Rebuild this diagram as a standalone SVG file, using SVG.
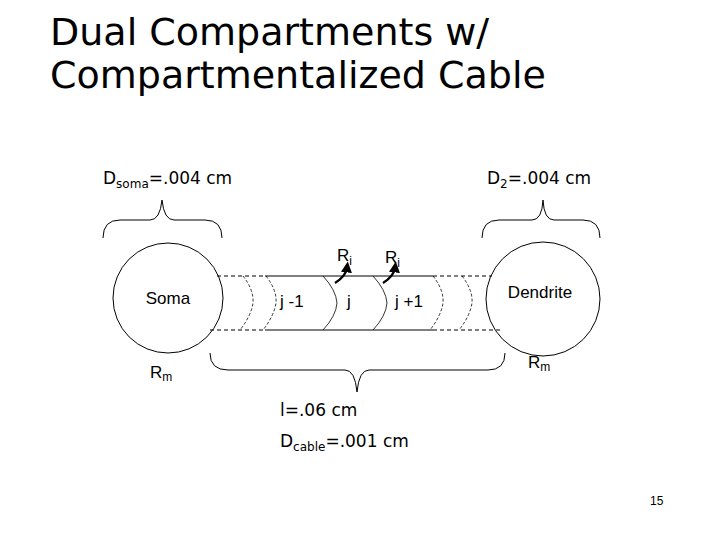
<svg xmlns="http://www.w3.org/2000/svg" width="720" height="540" viewBox="0 0 720 540">
<style>
text{font-family:"DejaVu Sans","Liberation Sans",sans-serif;fill:#000}
.l{font-size:17px}
.s{font-size:12px}
.a{font-size:17px;font-family:"Liberation Sans",sans-serif}
.ln{fill:none;stroke:#000;stroke-width:1}
.d{stroke-dasharray:4,3}
.dv{fill:none;stroke:#000;stroke-width:0.8;stroke-dasharray:3,2}
.sv{fill:none;stroke:#000;stroke-width:0.8}
</style>
<defs><marker id="ah" markerWidth="5" markerHeight="5" refX="2" refY="2.5" orient="auto"><path d="M0,0L5,2.5L0,5z" fill="#000"/></marker></defs>
<rect width="720" height="540" fill="#fff"/>
<text x="50" y="45" style="font-size:38px">Dual Compartments w/</text>
<text x="50" y="88" style="font-size:38px">Compartmentalized Cable</text>
<text x="103" y="184" class="l">D<tspan class="s" dy="4">soma</tspan><tspan dy="-4">=.004 cm</tspan></text>
<text x="487" y="184" class="l">D<tspan class="s" dy="4">2</tspan><tspan dy="-4">=.004 cm</tspan></text>
<g id="soma"><circle cx="168" cy="298" r="55" class="ln"/><text x="168" y="304" text-anchor="middle" class="a">Soma</text></g>
<g id="dendrite"><circle cx="543" cy="299" r="57" class="ln"/><text x="540" y="298" text-anchor="middle" class="a">Dendrite</text></g>
<g id="cable">
<path class="ln d" d="M217,276H265M433,276H492M210,330H265M433,330H500"/>
<path class="ln" d="M265,276H433M265,330H433"/>
<path class="dv" d="M243,276Q254,290 253,303Q251,316 240,330M266,276Q277,290 276,303Q274,316 263,330M433,276Q444,290 443,303Q441,316 430,330M462,276Q473,290 472,303Q470,316 459,330"/>
<path class="sv" d="M323,276Q336,290 337,303Q336,316 323,330M373,276Q386,290 387,303Q386,316 373,330"/>
<text x="280" y="307" class="a">j -1</text>
<text x="347" y="307" class="a">j</text>
<text x="395" y="307" class="a">j +1</text>
</g>
<g id="connectors">
<path class="ln" d="M335,283Q346,276 347,268" style="stroke-width:2.2" marker-end="url(#ah)"/>
<path class="ln" d="M383,283Q394,276 395,268" style="stroke-width:2.2" marker-end="url(#ah)"/>
</g>
<text x="337" y="261" class="a">R<tspan style="font-size:12px" dy="4">i</tspan></text>
<text x="385" y="263" class="a">R<tspan style="font-size:12px" dy="4">i</tspan></text>
<text x="150" y="378" class="a">R<tspan style="font-size:12px" dy="3">m</tspan></text>
<text x="528" y="368" class="a">R<tspan style="font-size:12px" dy="3">m</tspan></text>
<g id="braces">
<path class="ln" d="M103,238Q103,220 120,220H150Q160,220 162,200Q164,220 174,220H205Q222,220 222,238"/>
<path class="ln" d="M482,238Q482,220 499,220H532Q542,220 543,200Q544,220 554,220H583Q600,220 600,238"/>
<path class="ln" d="M210,353Q210,370 228,370H345Q355,370 357,392Q359,370 369,370H488Q505,370 505,353"/>
</g>
<text x="280" y="416" class="l">l=.06 cm</text>
<text x="280" y="447" class="l">D<tspan class="s" dy="4">cable</tspan><tspan dy="-4">=.001 cm</tspan></text>
<text x="650" y="505" style="font-size:12px;font-family:'Liberation Sans',sans-serif">15</text>
</svg>
